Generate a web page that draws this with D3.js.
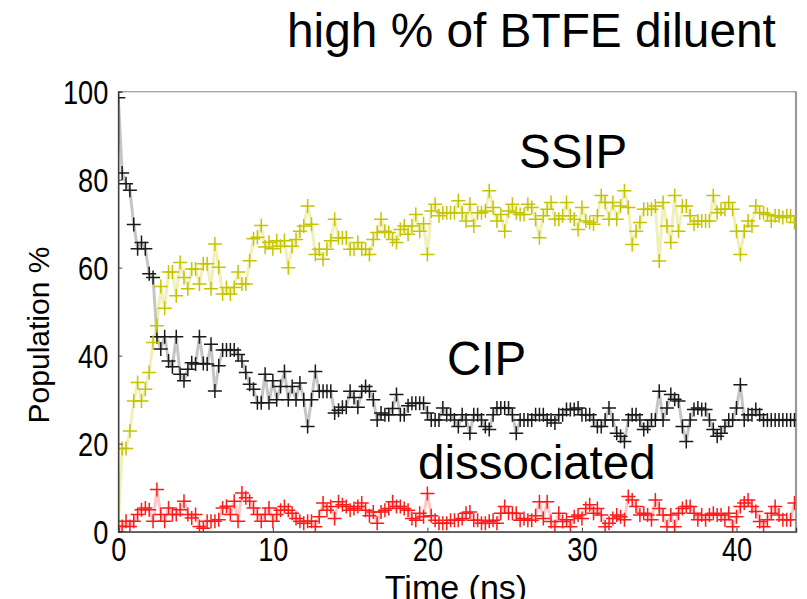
<!DOCTYPE html>
<html>
<head>
<meta charset="utf-8">
<script src="https://cdn.jsdelivr.net/npm/d3@7/dist/d3.min.js"></script>
<style>
  html, body { margin: 0; padding: 0; background: #fff; }
  svg { display: block; font-family: "Liberation Sans", Arial, sans-serif; }
</style>
</head>
<body>
<svg id="chart" width="807" height="599"></svg>
<script>
// Sampling step of the trajectory analysis (ns)
const timeStep = 0.25;

// Population (%) of each ion-pair state, one value per frame
const cipValues = [
  98.6,81.5,79.1,77.6,69.8,64.3,65.7,64.3,58.6,57.8,
  44.3,41.5,44.3,38.8,37.5,44.3,35.8,34.3,36.9,38.4,
  38.1,44.3,38.2,38.1,42.6,32.0,37.7,41.3,41.3,41.3,
  41.3,40.3,38.8,36.2,33.5,32.4,29.3,29.3,35.8,29.3,
  34.3,30.0,33.0,36.4,30.0,33.0,30.0,33.8,30.0,23.9,
  30.0,36.4,31.9,31.9,31.9,31.9,27.0,27.6,28.3,28.3,
  31.9,30.5,28.3,31.9,33.0,31.9,30.0,25.4,27.0,26.6,
  26.6,28.0,31.2,26.6,26.6,28.6,29.2,29.2,29.2,29.2,
  27.0,25.4,25.4,25.4,28.1,26.6,26.6,25.4,23.9,26.6,
  25.4,22.4,26.6,26.6,25.4,23.9,23.2,26.6,28.1,28.1,
  28.1,28.1,26.6,22.4,25.4,25.4,25.4,25.4,26.6,26.6,
  26.6,25.4,25.4,24.7,26.6,26.6,27.8,27.8,27.8,28.1,
  26.6,26.6,26.6,25.4,23.9,23.9,25.4,28.1,25.4,22.4,
  21.7,20.5,25.4,26.6,26.6,25.4,23.2,23.9,25.4,25.4,
  31.9,25.4,28.1,31.2,30.1,29.7,23.9,20.5,25.4,27.8,
  28.1,27.8,27.8,25.4,23.2,21.7,22.4,23.9,25.4,25.4,
  28.1,33.4,25.4,26.6,26.6,27.8,26.6,25.4,25.4,25.4,
  25.4,25.4,25.4,25.4,25.4,25.4
];

const ssipValues = [
  1.4,18.9,18.9,22.9,29.7,33.9,29.7,32.4,36.2,43.0,
  46.8,55.7,50.8,59.0,59.0,53.6,61.2,57.8,55.2,59.7,
  59.7,56.3,60.9,60.9,55.2,65.4,60.1,54.0,55.5,54.0,
  55.5,59.0,56.3,56.3,61.6,66.6,66.9,69.6,64.7,65.8,
  64.3,66.1,64.9,66.1,60.0,64.9,66.4,68.3,69.5,74.0,
  69.9,63.0,64.2,61.9,64.2,66.1,71.0,66.8,66.8,66.8,
  64.2,64.2,65.7,64.2,64.2,63.0,66.4,68.0,71.0,68.3,
  68.0,66.4,65.7,68.7,69.5,67.6,69.5,72.1,68.3,70.0,
  63.0,72.9,74.4,71.8,72.5,72.5,72.5,72.5,75.2,72.5,
  70.6,74.4,69.5,72.5,72.5,72.9,77.5,73.7,70.6,72.1,
  68.3,72.9,74.4,72.5,72.1,72.1,74.4,73.7,71.0,66.8,
  71.8,73.3,74.8,71.0,71.0,71.8,74.8,71.8,71.0,68.7,
  73.7,70.6,70.3,69.9,71.8,76.4,74.8,71.0,74.8,71.0,
  74.0,77.5,73.7,65.3,68.3,70.3,73.3,73.3,73.3,74.0,
  61.5,74.8,69.5,65.7,76.4,68.3,74.0,74.0,71.8,69.9,
  70.6,70.6,70.6,70.6,76.4,72.5,73.3,73.3,74.8,73.3,
  68.3,63.0,68.3,70.6,69.5,74.0,72.5,72.5,72.1,70.6,
  71.8,71.8,71.4,71.8,71.8,70.3
];

const dissociatedValues = [
  0.0,1.2,2.4,1.2,2.4,3.9,5.0,5.4,5.0,2.4,
  9.6,3.9,2.4,5.4,3.9,3.9,5.0,6.9,3.9,3.1,
  3.9,1.2,0.8,2.4,2.4,2.4,2.7,5.4,5.8,3.9,
  6.9,2.4,8.8,7.7,6.9,5.4,3.9,2.4,3.9,5.4,
  2.4,3.9,4.9,5.7,4.9,4.2,3.0,2.4,1.9,2.4,
  2.4,1.1,3.4,6.5,4.9,5.7,3.0,6.8,6.1,5.7,
  4.9,5.3,5.7,6.5,4.9,3.6,4.5,1.9,4.5,4.9,
  5.3,6.8,5.7,5.7,5.3,4.9,3.0,2.6,4.2,3.4,
  8.7,3.6,2.6,1.9,1.9,1.9,2.6,2.6,2.6,3.0,
  4.2,4.5,2.6,2.6,1.9,1.9,2.4,2.6,1.9,4.2,
  5.7,4.2,4.2,4.2,2.6,3.0,2.6,2.6,3.6,6.8,
  3.0,6.8,2.3,1.1,4.2,2.3,2.7,1.1,3.4,3.8,
  3.0,5.3,6.1,4.2,5.3,3.8,1.1,1.9,3.0,3.8,
  3.4,2.7,8.0,7.2,5.7,3.8,4.2,3.8,2.7,7.2,
  5.3,3.8,1.1,3.8,1.1,4.2,5.3,5.7,5.7,4.2,
  2.7,3.8,2.7,3.8,4.2,3.8,3.8,2.7,4.2,1.1,
  3.4,5.7,6.5,7.2,5.7,4.6,2.3,1.1,2.7,4.2,
  5.7,3.8,2.7,2.7,2.7,6.5
];

const xTicks = [0, 10, 20, 30, 40];
const yTicks = [0, 20, 40, 60, 80, 100];
const titleText = "high % of BTFE diluent";
const xLabel = "Time (ns)";
const yLabel = "Population %";

// Series styling and in-plot state labels
const series = [
  { name: "CIP",         values: cipValues,         mark: "#1a1a1a", line: "rgba(150,150,150,0.55)", label: { x: 447, y: 375 } },
  { name: "SSIP",        values: ssipValues,        mark: "#c4c400", line: "rgba(200,200,0,0.28)",   label: { x: 519, y: 168 } },
  { name: "dissociated", values: dissociatedValues, mark: "#ff1a1a", line: "rgba(255,0,0,0.22)",     label: { x: 418, y: 479 } }
];

const plot = { left: 118.3, right: 796, top: 91.7, bottom: 531.7 };

const svg = d3.select("#chart");

const x = d3.scaleLinear().domain([0, 43.85]).range([plot.left, plot.right]);
const y = d3.scaleLinear().domain([0, 100]).range([plot.bottom, plot.top]);

svg.append("defs").append("clipPath").attr("id", "plot-clip")
  .append("rect")
  .attr("x", plot.left).attr("y", plot.top)
  .attr("width", plot.right - plot.left).attr("height", plot.bottom - plot.top);

// Title
svg.append("text")
  .attr("x", 287).attr("y", 47)
  .attr("font-size", 47.8)
  .attr("fill", "#000")
  .text(titleText);

// Frame (top and right sides are light grey)
svg.append("rect")
  .attr("x", plot.left).attr("y", plot.top)
  .attr("width", plot.right - plot.left).attr("height", plot.bottom - plot.top)
  .attr("fill", "none").attr("stroke", "#9a9a9a").attr("stroke-width", 1.2);
svg.append("line")
  .attr("x1", plot.right).attr("x2", plot.right)
  .attr("y1", plot.top).attr("y2", plot.bottom)
  .attr("stroke", "#9a9a9a").attr("stroke-width", 2.2);

const layer = svg.append("g").attr("clip-path", "url(#plot-clip)");

const lineGen = (vals) => d3.line()
  .x((d, i) => x(i * timeStep))
  .y(d => y(d))(vals);

// Connecting lines under the markers
series.forEach(s => {
  layer.append("path")
    .attr("d", lineGen(s.values))
    .attr("fill", "none")
    .attr("stroke", s.line)
    .attr("stroke-width", 3)
    .attr("stroke-linejoin", "round");
});

// "+" markers
const arm = 7;
series.forEach(s => {
  const g = layer.append("g");
  g.selectAll("path")
    .data(s.values)
    .join("path")
    .attr("d", (d, i) => {
      const cx = x(i * timeStep), cy = y(d);
      return `M${cx - arm},${cy}H${cx + arm}M${cx},${cy - arm}V${cy + arm}`;
    })
    .attr("stroke", s.mark)
    .attr("stroke-width", 1.5)
    .attr("fill", "none");
});

// Axes with inward ticks
const xAxis = svg.append("g")
  .attr("transform", `translate(0,${plot.bottom})`)
  .call(d3.axisBottom(x).tickValues(xTicks).tickSize(-4).tickPadding(4).tickFormat(d3.format("d")));
const yAxis = svg.append("g")
  .attr("transform", `translate(${plot.left},0)`)
  .call(d3.axisLeft(y).tickValues(yTicks).tickSize(-4).tickPadding(10).tickFormat(d3.format("d")));

[xAxis, yAxis].forEach(a => {
  a.select(".domain").attr("stroke", "#333").attr("stroke-width", 1.3);
  a.selectAll(".tick line").attr("stroke", "#444").attr("stroke-width", 1);
  a.selectAll(".tick text")
    .attr("fill", "#000")
    .attr("font-size", 34)
    .attr("font-family", "'Liberation Sans', Arial, sans-serif");
});
xAxis.selectAll(".tick text").attr("dy", "0.71em").attr("y", 5)
  .attr("transform", "scale(0.8,1)");
yAxis.selectAll(".tick text").attr("x", -12.5).attr("dy", "0.35em")
  .attr("transform", "scale(0.8,1)");

// Axis titles
svg.append("text")
  .attr("transform", "translate(49,335) rotate(-90)")
  .attr("text-anchor", "middle")
  .attr("font-size", 30)
  .attr("fill", "#000")
  .text(yLabel);
svg.append("text")
  .attr("x", 456).attr("y", 599)
  .attr("text-anchor", "middle")
  .attr("font-size", 34)
  .attr("fill", "#000")
  .text(xLabel);

// State labels
series.forEach(s => {
  svg.append("text")
    .attr("x", s.label.x).attr("y", s.label.y)
    .attr("font-size", 47.5)
    .attr("fill", "#000")
    .text(s.name);
});
</script>
</body>
</html>
